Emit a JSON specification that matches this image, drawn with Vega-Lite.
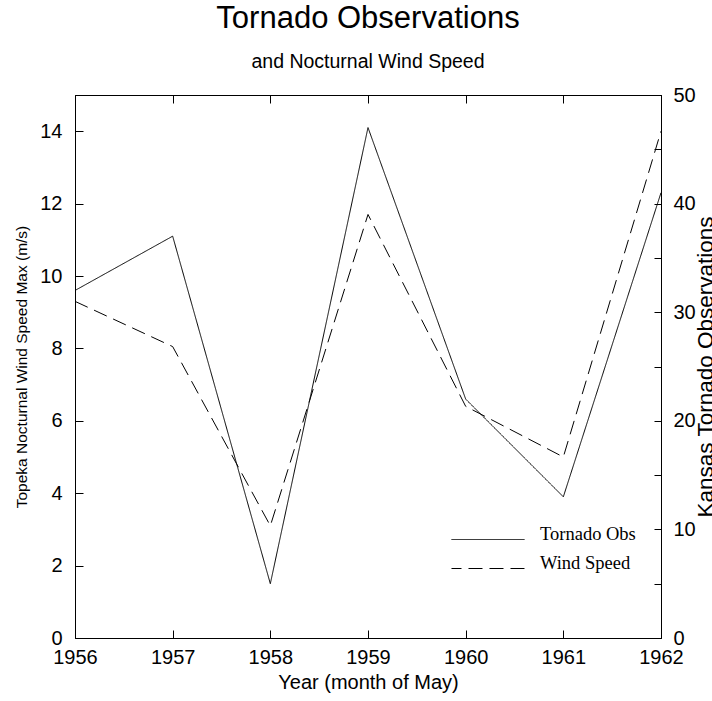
{
  "$schema": "https://vega.github.io/schema/vega-lite/v6.json",
  "width": 586,
  "height": 543,
  "autosize": "none",
  "padding": {"left": 75, "top": 95, "right": 51, "bottom": 63},
  "background": "white",
  "config": {
    "font": "Liberation Sans",
    "view": {"stroke": "black", "strokeWidth": 1},
    "axis": {
      "domainColor": "black",
      "tickColor": "black",
      "labelColor": "black",
      "titleColor": "black",
      "labelFont": "Liberation Sans",
      "titleFont": "Liberation Sans",
      "labelFontSize": 20,
      "titleFontWeight": "normal",
      "grid": false
    }
  },
  "title": {
    "text": "Tornado Observations",
    "subtitle": "and Nocturnal Wind Speed",
    "font": "Liberation Sans",
    "fontSize": 31,
    "fontWeight": "normal",
    "subtitleFont": "Liberation Sans",
    "subtitleFontSize": 19.5,
    "subtitleColor": "black",
    "color": "black",
    "anchor": "middle",
    "offset": 13,
    "subtitlePadding": 18
  },
  "data": {
    "values": [
      {"year": 1956, "series": "Tornado Obs", "value": 32},
      {"year": 1957, "series": "Tornado Obs", "value": 37},
      {"year": 1958, "series": "Tornado Obs", "value": 5},
      {"year": 1959, "series": "Tornado Obs", "value": 47},
      {"year": 1960, "series": "Tornado Obs", "value": 22},
      {"year": 1961, "series": "Tornado Obs", "value": 13},
      {"year": 1962, "series": "Tornado Obs", "value": 41},
      {"year": 1956, "series": "Wind Speed", "value": 9.3},
      {"year": 1957, "series": "Wind Speed", "value": 8.05},
      {"year": 1958, "series": "Wind Speed", "value": 3.1},
      {"year": 1959, "series": "Wind Speed", "value": 11.7},
      {"year": 1960, "series": "Wind Speed", "value": 6.4},
      {"year": 1961, "series": "Wind Speed", "value": 5.0},
      {"year": 1962, "series": "Wind Speed", "value": 14.0}
    ]
  },
  "layer": [
    {
      "transform": [{"filter": "datum.series == 'Wind Speed'"}],
      "mark": {"type": "line", "color": "black", "strokeWidth": 1},
      "encoding": {
        "x": {
          "field": "year", "type": "quantitative",
          "scale": {"domain": [1956, 1962], "nice": false, "zero": false},
          "axis": {
            "orient": "bottom",
            "title": "Year (month of May)",
            "titleFontSize": 20,
            "titlePadding": 5,
            "values": [1956, 1957, 1958, 1959, 1960, 1961, 1962],
            "format": "d",
            "labelFlush": false,
            "labelOverlap": false,
            "tickSize": -8,
            "labelPadding": 17
          }
        },
        "y": {
          "field": "value", "type": "quantitative",
          "scale": {"domain": [0, 15], "nice": false},
          "axis": {
            "orient": "left",
            "title": "Topeka Nocturnal Wind Speed Max (m/s)",
            "titleFontSize": 15.5,
            "titlePadding": 10,
            "values": [0, 2, 4, 6, 8, 10, 12, 14],
            "tickSize": -8,
            "labelPadding": 21
          }
        },
        "strokeDash": {
          "field": "series", "type": "nominal",
          "scale": {"domain": ["Tornado Obs", "Wind Speed"], "range": [[1, 0], [14, 7]]},
          "legend": {
            "orient": "none",
            "legendX": 403.5,
            "legendY": 435,
            "title": null,
            "symbolType": "M-4.056,0H4.056",
            "symbolSize": 324,
            "symbolStrokeWidth": 1,
            "symbolStrokeColor": "black",
            "symbolFillColor": "transparent",
            "labelFont": "Liberation Serif",
            "labelFontSize": 18.5,
            "labelColor": "black",
            "labelOffset": 42.5,
            "labelBaseline": "alphabetic",
            "rowPadding": 10,
            "encode": {
              "symbols": {
                "update": {
                  "strokeDash": {"signal": "datum.value === 'Wind Speed' ? [10, 14] : [1, 0]"},
                  "strokeDashOffset": {"value": 4}
                }
              }
            }
          }
        }
      }
    },
    {
      "transform": [{"filter": "datum.series == 'Tornado Obs'"}],
      "mark": {"type": "line", "color": "black", "strokeWidth": 1},
      "encoding": {
        "x": {
          "field": "year", "type": "quantitative",
          "scale": {"domain": [1956, 1962], "nice": false, "zero": false},
          "axis": {
            "orient": "top",
            "title": null,
            "labels": false,
            "values": [1956, 1957, 1958, 1959, 1960, 1961, 1962],
            "tickSize": -8
          }
        },
        "y": {
          "field": "value", "type": "quantitative",
          "scale": {"domain": [0, 50], "nice": false},
          "axis": {
            "orient": "right",
            "title": "Kansas Tornado Observations",
            "titleFontSize": 22.5,
            "titleAngle": 270,
            "titleX": 44,
            "titleY": 271.5,
            "titleAlign": "center",
            "titleBaseline": "middle",
            "values": [0, 5, 10, 15, 20, 25, 30, 35, 40, 45, 50],
            "labelExpr": "datum.value % 10 == 0 ? datum.label : ''",
            "tickSize": -7,
            "labelPadding": 19
          }
        },
        "strokeDash": {
          "field": "series", "type": "nominal",
          "scale": {"domain": ["Tornado Obs", "Wind Speed"], "range": [[1, 0], [14, 7]]}
        }
      }
    }
  ],
  "resolve": {"scale": {"y": "independent"}, "axis": {"x": "independent"}}
}
